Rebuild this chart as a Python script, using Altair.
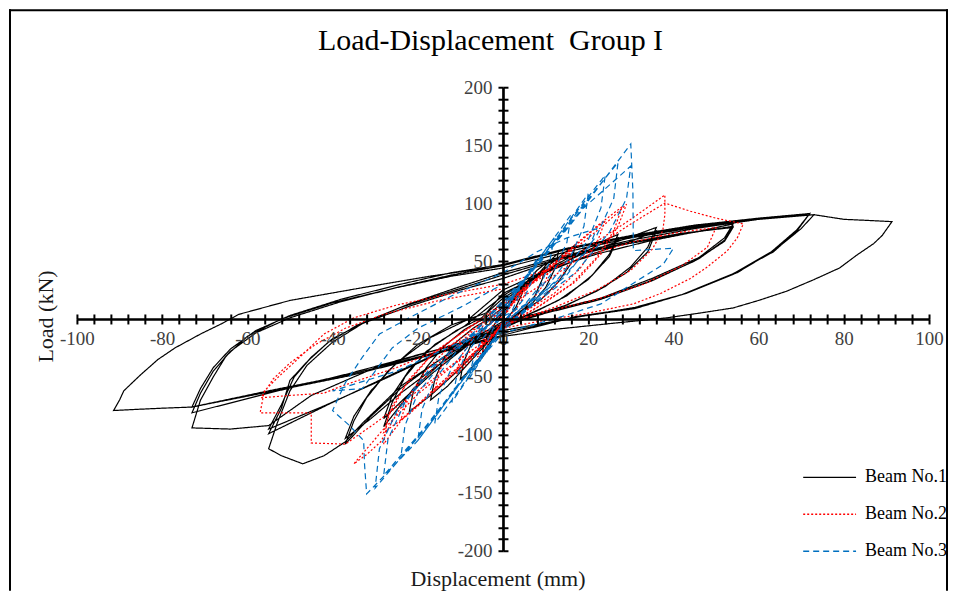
import altair as alt
import pandas as pd

# ---------------- data (displacement mm, load kN) ----------------
SERIES = ["Beam No.1", "Beam No.2", "Beam No.3"]

BEAM1 = [
    (0, 0), (1.5, 12), (3, 22), (5, 32), (4.5, 22), (3, 10), (1.5, 3), (0, -3), (-1.5, -12), (-3, -23), (-5, -34),
    (-4.5, -22), (-3, -10), (-1.5, -2), (0, 5),
    (3, 20), (6, 34), (8, 42), (10, 48), (9.3, 35), (7.5, 20), (5, 9), (2, 1), (0, -5), (-3, -20), (-6, -36),
    (-8, -45), (-10, -52), (-9.3, -38), (-7.5, -22), (-5, -10), (-2, -1), (0, 6),
    (4, 22), (8, 38), (11, 50), (13, 57), (12, 42), (10, 27), (7, 14), (3, 3), (0, -5), (-4, -22), (-9, -42),
    (-13, -58), (-17, -70), (-16, -52), (-14, -35), (-11, -20), (-7, -8), (-3, 1), (0, 10),
    (5, 28), (10, 44), (14, 56), (17, 64), (16, 48), (13, 32), (9, 17), (4, 5), (0, -6), (-5, -24), (-11, -46),
    (-17, -66), (-22, -80), (-21, -62), (-18, -42), (-14, -24), (-9, -9), (-4, 1), (0, 15),
    (6, 32), (12, 46), (19, 60), (27, 73), (25, 56), (21, 38), (15, 20), (8, 7), (0, -5), (-7, -18), (-14, -36),
    (-21, -60), (-28, -93), (-26, -72), (-23, -50), (-18, -28), (-11, -10), (-5, 1), (0, 18),
    (8, 36), (16, 52), (22, 63), (27, 70), (25, 54), (20, 34), (13, 16), (6, 4), (0, -8), (-8, -22), (-16, -45),
    (-23, -68), (-28, -86), (-26, -66), (-22, -44), (-16, -22), (-9, -6), (0, 20),
    (9, 40), (18, 55), (27, 67), (36, 79), (34, 62), (30, 45), (24, 28), (15, 12), (6, 2), (0, -7), (-8, -20),
    (-16, -38), (-24, -60), (-31, -84), (-37, -108), (-35, -88), (-32, -68), (-27, -45), (-20, -22), (-12, -5),
    (-4, 5), (0, 22),
    (10, 40), (20, 55), (30, 67), (36, 76), (34, 58), (29, 40), (22, 24), (13, 9), (5, 0), (0, -8), (-8, -22),
    (-16, -42), (-24, -64), (-31, -86), (-37, -103), (-35, -84), (-31, -62), (-25, -38), (-17, -16), (-8, 0), (0, 25),
    (10, 42), (22, 56), (34, 67), (45, 75), (54, 82), (52, 70), (46, 53), (35, 35), (23, 18), (12, 8), (0, -2),
    (-12, -28), (-24, -58), (-33, -90), (-37, -106), (-42, -118), (-47, -125), (-52, -118), (-55, -112),
    (-53, -90), (-50, -62), (-46, -40), (-40, -20), (-33, -4), (-22, 11), (-10, 25), (0, 35),
    (12, 50), (25, 62), (40, 72), (54, 80), (52, 68), (46, 52), (35, 33), (23, 17), (11, 6), (0, -4), (-12, -24),
    (-25, -46), (-40, -72), (-55, -99), (-52, -77), (-50, -53), (-46, -37), (-41, -20), (-34, -5), (-24, 10),
    (-12, 24), (0, 38),
    (14, 53), (28, 65), (42, 74), (54, 79), (52, 67), (45, 50), (34, 32), (22, 16), (10, 5), (0, -6), (-14, -28),
    (-28, -52), (-42, -75), (-55, -95), (-52, -74), (-49, -50), (-45, -33), (-40, -17), (-32, -2), (-22, 13),
    (-10, 28), (0, 40),
    (15, 55), (30, 68), (45, 78), (60, 86), (72, 91), (69, 76), (63.5, 58), (54, 39), (42, 21), (31, 9), (18, 2),
    (0, -10), (-15, -26), (-30, -42), (-45, -66), (-55, -92), (-64, -95), (-73, -94), (-71, -70), (-68, -50),
    (-65, -32), (-60, -15), (-52, 0), (-40, 14), (-25, 27), (-12, 37), (0, 44),
    (15, 58), (30, 70), (45, 79), (60, 86), (73, 90), (70, 78), (64, 60), (55, 40), (43, 22), (31, 10), (18, 2),
    (0, -12), (-18, -29), (-36, -47), (-55, -64), (-73, -81), (-71, -64), (-68, -45), (-64, -28), (-58, -12),
    (-50, 1), (-38, 15), (-24, 28), (-12, 38), (0, 46),
    (15, 60), (30, 71), (45, 80), (60, 87), (72, 91), (69, 77), (63, 58), (54, 39), (42, 21), (30, 9), (17, 2),
    (0, -14), (-18, -31), (-36, -48), (-55, -62), (-73, -76), (-71, -60), (-68, -42), (-64, -26), (-58, -10),
    (-50, 3), (-38, 17), (-24, 30), (-12, 40), (0, 47),
    (15, 61), (30, 72), (45, 81), (60, 87), (73, 90), (80, 86), (86, 85), (91.3, 84), (89, 72), (87, 65), (83, 55),
    (79, 44), (73, 34), (66.6, 24), (60, 16), (54, 9.5), (46, 5), (38.5, 1), (25, -4), (12, -9), (0, -15),
    (-18, -32), (-36, -49), (-55, -63), (-73, -76), (-80, -77), (-86, -78), (-91.4, -79), (-90, -70), (-89, -62),
    (-87, -55), (-85, -48), (-81, -35), (-77, -25), (-71, -13), (-66, -4), (-62, 4), (-50, 16), (-33, 27),
    (-17, 37), (0, 46),
]

BEAM2 = [
    (0, 0), (2, 12), (4, 24), (6, 32), (5, 20), (3, 8), (0, -2), (-2, -12), (-4, -24), (-6, -33), (-5, -20),
    (-3, -8), (0, 3),
    (4, 20), (8, 36), (11, 46), (10, 32), (7, 17), (3, 5), (0, -3), (-4, -20), (-8, -37), (-11, -48), (-10, -33),
    (-7, -16), (-3, -4), (0, 5),
    (5, 24), (10, 42), (16, 60), (15, 44), (12, 27), (7, 11), (0, -4), (-5, -24), (-10, -42), (-16, -62),
    (-15, -45), (-12, -27), (-7, -10), (0, 8),
    (6, 28), (13, 50), (20, 73), (24, 85), (22, 65), (18, 43), (12, 22), (5, 6), (0, -5), (-6, -26), (-13, -50),
    (-20, -74), (-24, -87), (-22, -66), (-18, -44), (-12, -22), (-6, -6), (0, 10),
    (7, 32), (14, 55), (22, 80), (28, 97), (26, 76), (22, 53), (16, 30), (8, 10), (0, -6), (-7, -30), (-14, -55),
    (-22, -82), (-28, -98), (-26, -75), (-22, -52), (-16, -28), (-8, -8), (0, 12),
    (8, 35), (16, 58), (24, 82), (29, 99), (27, 80), (23, 56), (17, 32), (9, 12), (0, -8), (-8, -33), (-16, -60),
    (-24, -88), (-28, -108), (-27, -84), (-23, -58), (-17, -32), (-9, -10), (0, 14),
    (10, 38), (20, 62), (30, 86), (38, 107), (38, 90), (37.5, 76), (35, 60), (30, 42), (22, 25), (12, 10), (0, -6),
    (-10, -35), (-20, -65), (-28, -95), (-35, -125), (-32, -117), (-28.7, -106), (-25, -82), (-20, -57),
    (-14, -34), (-7, -13), (0, 8),
    (10, 32), (20, 58), (30, 82), (38, 100), (44, 93), (50, 87), (56.4, 82), (55, 70), (52.6, 58.6), (48, 45),
    (44, 35), (37, 22), (30.6, 13), (20, 5), (10, -1), (0, -8), (-10, -34), (-20, -62), (-30, -90), (-37, -108),
    (-45, -107), (-45, -94), (-45, -81), (-51, -81), (-57, -81), (-56, -62), (-53, -51), (-48, -34), (-42, -13),
    (-35, 1), (-25, 12), (-12, 22), (0, 30),
    (10, 42), (20, 55), (30, 66), (40, 74), (50, 79), (48, 62), (42, 46), (33, 30), (22, 17), (10, 6), (0, -4),
    (-12, -22), (-25, -42), (-38, -58), (-42, -64), (-50, -66), (-56.8, -68), (-54, -52), (-50, -38), (-44, -22),
    (-37, -8), (-28, 4), (-15, 16), (0, 26),
]

BEAM3 = [
    (0, 0), (2, 15), (4, 30), (3.5, 18), (2, 6), (0, -3), (-2, -16), (-4, -30), (-3.5, -18), (-2, -6), (0, 3),
    (3, 22), (6, 40), (8, 52), (7, 35), (5, 18), (2, 4), (0, -4), (-3, -22), (-6, -40), (-8, -52), (-7, -35),
    (-5, -18), (-2, -4), (0, 5),
    (4, 28), (8, 50), (12, 70), (11, 50), (9, 30), (5, 12), (0, -5), (-4, -28), (-8, -50), (-12, -72), (-11, -52),
    (-9, -32), (-5, -12), (0, 7),
    (5, 32), (10, 60), (16, 90), (15, 66), (12, 42), (7, 18), (0, -6), (-5, -32), (-10, -60), (-16, -90),
    (-15, -66), (-12, -42), (-7, -18), (0, 9),
    (6, 38), (13, 72), (20, 108), (19, 80), (16, 55), (10, 26), (3, 5), (0, -6), (-6, -36), (-13, -70),
    (-20, -105), (-19, -78), (-16, -52), (-10, -24), (-3, -4), (0, 10),
    (7, 42), (15, 82), (24, 124), (23, 96), (20, 68), (13, 35), (5, 8), (0, -8), (-7, -40), (-15, -78),
    (-24, -120), (-23, -92), (-20, -64), (-13, -32), (-5, -8), (0, 12),
    (8, 46), (17, 90), (27, 135), (26, 104), (22, 72), (15, 38), (6, 10), (0, -8), (-8, -44), (-17, -88),
    (-28, -135), (-27, -104), (-23, -72), (-15, -36), (-6, -9), (0, 14),
    (9, 50), (19, 96), (30, 132), (29, 104), (25, 75), (17, 40), (7, 12), (0, -10), (-9, -50), (-19, -98),
    (-30, -146), (-29, -112), (-25, -80), (-17, -42), (-7, -12), (0, 16),
    (10, 55), (20, 102), (30, 151), (30.5, 110), (30.6, 59), (35, 60), (40, 61), (37.6, 47), (31.5, 33),
    (23, 13), (12, 0), (0, -12), (-10, -55), (-20, -105), (-32, -151), (-32.5, -125), (-32.7, -105), (-36, -92),
    (-40, -79), (-37, -55), (-33, -33), (-29, -13), (-22, 1), (-12, 20), (0, 40),
    (8, 58), (15, 70), (22, 78), (20, 60), (15, 40), (8, 18), (0, 2), (-10, -20), (-25, -45), (-40, -62),
    (-33, -60), (-30, -45), (-26, -25), (-20, -8), (-10, 10), (0, 30),
]

COLORS = ["#000000", "#FF0000", "#0070C0"]
DASHES = [[1, 0], [2, 2], [6, 4]]
X_TICKS = list(range(-100, 101, 4))
Y_TICKS = list(range(-200, 201, 10))
TITLE = "Load-Displacement\u00a0 Group I"
X_TITLE = "Displacement (mm)"
Y_TITLE = "Load (kN)"

rows = []
for name, pts in zip(SERIES, [BEAM1, BEAM2, BEAM3]):
    for i, (x, y) in enumerate(pts):
        rows.append({"beam": name, "idx": i, "disp": x, "load": y})
df = pd.DataFrame(rows)

# ---------------- layout ----------------
W, H = 940, 582
X0, Y0 = 494.5, 310  # pixel position of the data origin inside the view
FONT = "Liberation Serif"

xscale = alt.Scale(domain=[-100, 100], range=[68, 921], nice=False, zero=False)
yscale = alt.Scale(domain=[-200, 200], range=[542, 78], nice=False, zero=False)

common_axis = dict(
    grid=False, domainColor="black", domainWidth=2.2, tickColor="black", tickWidth=2, tickSize=5,
    labelFont=FONT, labelFontSize=19, labelColor="#404040", labelFlush=False, labelOverlap=False, zindex=1,
)

x_bottom = alt.Axis(
    orient="bottom", offset=-(H - Y0), values=X_TICKS,
    labelExpr="datum.value % 20 === 0 ? '' + datum.value : ''", labelPadding=6,
    title=X_TITLE, titleFont=FONT, titleFontSize=22, titleFontWeight="normal", titleColor="#1a1a1a",
    titleX=489, titleY=267, titleBaseline="alphabetic", titleAlign="center", **common_axis,
)
y_left = alt.Axis(
    orient="left", offset=-X0, values=Y_TICKS,
    labelExpr="datum.value % 50 === 0 ? '' + datum.value : ''", labelPadding=6,
    title=Y_TITLE, titleFont=FONT, titleFontSize=22, titleFontWeight="normal", titleColor="#1a1a1a",
    titleX=-(X0 - 37), titleY=307, titleAngle=270, titleBaseline="middle", titleAlign="center", **common_axis,
)
x_top = alt.Axis(orient="top", offset=-Y0, values=X_TICKS, labels=False, title=None, **common_axis)
y_right = alt.Axis(orient="right", offset=-(W - X0), values=Y_TICKS, labels=False, title=None, **common_axis)

leg = alt.Legend(
    title=None, orient="none", legendX=794, legendY=441, symbolType="stroke", symbolSize=2800,
    symbolStrokeWidth=1.3, labelFont=FONT, labelFontSize=18, labelColor="#000000", labelOffset=8,
    rowPadding=-2, padding=0,
)

lines = alt.Chart(df).mark_line(strokeWidth=1.2).encode(
    x=alt.X("disp:Q", scale=xscale, axis=x_bottom),
    y=alt.Y("load:Q", scale=yscale, axis=y_left),
    color=alt.Color("beam:N", scale=alt.Scale(domain=SERIES, range=COLORS), legend=leg),
    strokeDash=alt.StrokeDash("beam:N", scale=alt.Scale(domain=SERIES, range=DASHES), legend=leg),
    order=alt.Order("idx:Q"),
)

axes2 = alt.Chart(df).mark_point(opacity=0, size=1).encode(
    x=alt.X("disp:Q", scale=xscale, axis=x_top),
    y=alt.Y("load:Q", scale=yscale, axis=y_right),
)

one = pd.DataFrame({"k": [0]})
frame_left = alt.Chart(one).mark_rule(color="black", strokeWidth=2).encode(
    x=alt.value(1), y=alt.value(0), y2=alt.value(H))
frame_top = alt.Chart(one).mark_rule(color="black", strokeWidth=2).encode(
    y=alt.value(1), x=alt.value(0), x2=alt.value(W))
frame_right = alt.Chart(one).mark_rule(color="black", strokeWidth=2).encode(
    x=alt.value(W - 1), y=alt.value(0), y2=alt.value(H))

chart = (
    alt.layer(frame_left, frame_top, frame_right, lines, axes2)
    .resolve_axis(x="independent", y="independent")
    .properties(
        width=W, height=H, padding=0,
        title=alt.TitleParams(TITLE, font=FONT, fontSize=30, fontWeight="normal", color="#000000",
                              anchor="middle", offset=-72, dx=12, baseline="alphabetic"),
    )
    .configure_view(stroke=None)
)

chart.save("out.html", embed_options={"renderer": "svg", "actions": False})
